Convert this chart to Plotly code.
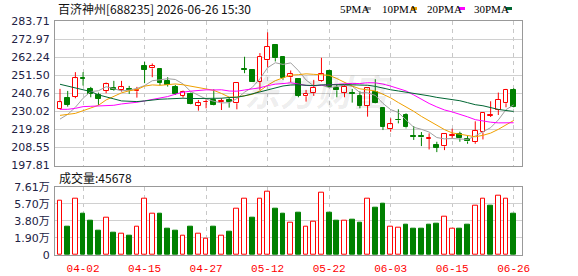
import plotly.graph_objects as go

# ---------------- data ----------------
dates = ["03-30", "03-31", "04-01", "04-02", "04-03", "04-07", "04-08", "04-09", "04-10", "04-13",
         "04-14", "04-15", "04-16", "04-17", "04-20", "04-21", "04-22", "04-23", "04-24", "04-27",
         "04-28", "04-29", "04-30", "05-06", "05-07", "05-08", "05-11", "05-12", "05-13", "05-14",
         "05-15", "05-18", "05-19", "05-20", "05-21", "05-22", "05-25", "05-26", "05-27", "05-28",
         "05-29", "06-01", "06-02", "06-03", "06-04", "06-05", "06-08", "06-09", "06-10", "06-11",
         "06-12", "06-15", "06-16", "06-17", "06-18", "06-22", "06-23", "06-24", "06-25", "06-26"]

opens = [231.21, 237.78, 238.77, 249.91, 243.15, 239.77, 242.35, 243.94, 242.95, 243.15,
         241.95, 257.07, 255.48, 255.28, 248.12, 244.74, 239.37, 240.36, 233.40, 235.39,
         236.78, 235.39, 236.78, 234.79, 255.28, 254.68, 247.72, 260.45, 269.60, 262.24,
         250.31, 249.11, 238.97, 240.76, 247.92, 254.09, 244.14, 240.96, 240.96, 239.17,
         233.20, 241.75, 232.21, 219.28, 225.05, 227.83, 215.10, 215.30, 213.71, 209.93,
         209.14, 215.50, 216.30, 213.71, 211.73, 217.49, 227.43, 230.82, 234.79, 242.75]
highs = [243.35, 242.15, 253.29, 253.29, 244.54, 241.16, 247.12, 248.12, 248.12, 245.14,
         244.54, 259.46, 258.46, 255.28, 250.31, 245.73, 242.35, 241.16, 236.78, 237.18,
         243.15, 237.78, 238.37, 247.00, 262.44, 255.08, 264.63, 276.96, 269.80, 262.64,
         254.29, 249.51, 242.75, 248.72, 261.84, 254.68, 246.13, 245.73, 243.35, 241.95,
         244.34, 249.11, 232.41, 225.84, 231.21, 228.83, 221.27, 217.69, 216.90, 211.92,
         216.70, 219.68, 217.89, 215.30, 224.06, 229.20, 235.99, 241.16, 243.35, 243.74]
lows = [231.00, 232.80, 237.78, 245.33, 238.37, 233.80, 240.76, 242.15, 241.75, 240.36,
        238.17, 246.73, 250.31, 245.53, 244.74, 239.77, 238.17, 234.20, 230.42, 231.81,
        233.40, 230.80, 232.20, 231.21, 252.69, 247.50, 242.75, 256.08, 259.66, 248.72,
        247.32, 238.37, 235.79, 239.17, 247.50, 244.34, 238.37, 238.37, 235.19, 231.81,
        226.84, 234.79, 218.88, 217.89, 222.86, 219.88, 213.00, 209.34, 207.35, 205.77,
        206.96, 213.71, 211.92, 210.74, 210.74, 213.30, 226.64, 227.83, 232.41, 232.20]
closes = [235.39, 234.00, 249.71, 249.51, 240.36, 237.58, 246.13, 242.55, 244.34, 242.55,
          242.55, 254.68, 256.87, 247.12, 245.73, 240.36, 241.36, 234.59, 234.79, 235.59,
          233.60, 236.38, 235.39, 246.93, 254.68, 247.72, 262.24, 268.21, 261.64, 249.71,
          252.30, 239.17, 240.36, 243.94, 252.30, 244.74, 242.55, 244.54, 240.56, 233.40,
          243.74, 235.19, 220.67, 222.26, 224.65, 220.47, 214.70, 214.50, 214.11, 208.35,
          216.50, 215.70, 213.90, 212.12, 218.49, 229.03, 228.03, 236.78, 242.75, 232.41]

volumes = [60130, 31550, 62360, 45660, 37860, 26730, 41950, 24500, 24130, 21160,
           31920, 62360, 46400, 45660, 28950, 26730, 21900, 31180, 24130, 17820,
           31180, 21900, 25610, 51970, 62360, 41570, 63100, 70900, 51230, 45660,
           36380, 46770, 31180, 37490, 69790, 46770, 37860, 37860, 38980, 35640,
           62360, 52340, 57540, 31180, 30070, 33410, 28950, 28950, 33410, 34520,
           42320, 28950, 28950, 33410, 55310, 63100, 54570, 66450, 62360, 45678]
# 1 = red (up) volume bar, 0 = green (down) volume bar, as drawn in the chart
vol_up = [1, 0, 1, 0, 0, 0, 1, 0, 1, 0,
          1, 1, 1, 0, 0, 0, 1, 0, 1, 1,
          0, 1, 0, 1, 1, 0, 1, 1, 0, 0,
          1, 0, 1, 1, 1, 0, 0, 1, 0, 0,
          1, 0, 0, 1, 1, 0, 0, 0, 0, 0,
          1, 1, 0, 0, 1, 1, 0, 1, 1, 0]

ma5 = [225.40, 228.20, 232.40, 237.80, 241.79, 242.23, 244.66, 243.23, 242.19, 242.63,
       243.62, 245.33, 248.20, 248.75, 249.39, 248.95, 246.29, 241.83, 239.37, 237.34,
       235.99, 234.99, 235.15, 237.58, 241.40, 244.22, 249.39, 255.96, 258.90, 257.90,
       258.82, 254.21, 248.64, 245.10, 245.61, 244.10, 244.78, 245.61, 244.94, 241.16,
       240.96, 239.49, 234.71, 231.05, 229.30, 224.65, 220.55, 219.32, 217.69, 214.43,
       213.63, 213.83, 213.71, 213.31, 215.34, 217.85, 220.31, 224.89, 231.02, 233.80]
ma10 = [227.60, 228.20, 228.80, 230.40, 231.80, 233.60, 236.80, 238.80, 241.00, 242.21,
        242.93, 245.00, 245.71, 245.47, 246.01, 246.29, 245.81, 245.02, 244.06, 243.36,
        242.47, 240.64, 238.49, 238.47, 239.37, 240.10, 242.19, 245.55, 248.24, 249.65,
        251.52, 251.80, 252.30, 252.00, 251.76, 251.46, 249.49, 247.13, 245.02, 243.39,
        242.53, 242.13, 240.16, 238.00, 235.23, 232.80, 230.02, 227.01, 224.37, 221.86,
        219.14, 217.19, 216.51, 215.50, 214.88, 215.74, 217.07, 219.30, 222.17, 224.57]
ma20 = [231.20, 231.20, 231.80, 232.80, 233.00, 233.20, 233.20, 233.60, 234.40, 234.80,
        235.40, 236.20, 237.00, 237.80, 238.80, 240.20, 241.40, 242.00, 242.50, 242.79,
        242.70, 242.82, 242.10, 241.97, 242.69, 243.20, 244.00, 245.28, 246.15, 246.51,
        246.99, 246.22, 245.39, 245.23, 245.56, 245.78, 245.84, 246.34, 246.63, 246.52,
        247.03, 246.97, 246.23, 245.00, 243.49, 242.13, 239.76, 237.07, 234.69, 232.63,
        230.84, 229.66, 228.34, 226.75, 225.06, 224.27, 223.55, 223.16, 223.27, 223.22]
ma30 = [246.10, 245.10, 243.70, 242.70, 241.75, 239.80, 238.80, 237.40, 236.20, 235.80,
        235.80, 236.20, 236.80, 237.20, 237.40, 237.80, 237.80, 237.60, 237.60, 237.60,
        237.60, 237.80, 238.20, 238.40, 239.20, 240.40, 241.80, 243.00, 244.00, 245.08,
        245.64, 245.81, 245.50, 245.31, 245.71, 245.95, 245.83, 245.90, 245.77, 245.47,
        245.51, 244.86, 243.65, 242.82, 242.12, 241.46, 240.57, 239.90, 239.21, 238.30,
        237.73, 237.04, 236.32, 235.16, 233.96, 233.33, 232.19, 231.15, 230.52, 229.94]

price_tick_vals = [197.81, 208.55, 219.28, 230.02, 240.76, 251.50, 262.24, 272.97, 283.71]
price_tick_text = ["197.81", "208.55", "219.28", "230.02", "240.76", "251.50", "262.24", "272.97", "283.71"]
vol_tick_vals = [0, 19025, 38050, 57075, 76100]
vol_tick_text = ["0", "1.90万", "3.80万", "5.70万", "7.61万"]
date_ticks = ["04-02", "04-15", "04-27", "05-12", "05-22", "06-03", "06-15", "06-26"]

title_text = "百济神州[688235] 2026-06-26 15:30"
vol_title = "成交量:45678"
ma_names = ["5PMA", "10PMA", "20PMA", "30PMA"]

# ---------------- styles ----------------
RED = "#ff0000"
GREEN = "#008000"
MA_COLORS = ["#a0a0a0", "#f0a000", "#ff00ff", "#006633"]
W, H = 578, 276
ML, MR, MT, MB = 55, 56, 21, 21
PW, PH = W - ML - MR, H - MT - MB


def px_x(px):
    return (px - ML) / PW


def px_y(py):
    return (H - MB - py) / PH


fig = go.Figure()

# candle wicks (split so hollow bodies stay hollow)
for up in (True, False):
    xs, ys = [], []
    for d, o, h, l, c in zip(dates, opens, highs, lows, closes):
        if (c >= o) != up:
            continue
        top, bot = max(o, c), min(o, c)
        xs += [d, d, None, d, d, None]
        ys += [h, top, None, bot, l, None]
    fig.add_trace(go.Scatter(x=xs, y=ys, mode="lines", line=dict(color=RED if up else GREEN, width=1),
                             xaxis="x", yaxis="y", hoverinfo="skip", showlegend=False))

# candle bodies
body_base = [min(o, c) for o, c in zip(opens, closes)]
body_h = [abs(c - o) for o, c in zip(opens, closes)]
body_fill = ["#ffffff" if c >= o else GREEN for o, c in zip(opens, closes)]
body_line = [RED if c >= o else GREEN for o, c in zip(opens, closes)]
fig.add_trace(go.Bar(x=dates, y=body_h, base=body_base, width=0.62,
                     marker=dict(color=body_fill, line=dict(color=body_line, width=1)),
                     xaxis="x", yaxis="y", hoverinfo="skip", showlegend=False))

# moving averages
for ma, col in zip([ma5, ma10, ma20, ma30], MA_COLORS):
    fig.add_trace(go.Scatter(x=dates, y=ma, mode="lines", line=dict(color=col, width=1),
                             xaxis="x", yaxis="y", hoverinfo="skip", showlegend=False))

# volume
fig.add_trace(go.Bar(x=dates, y=volumes, width=0.62,
                     marker=dict(color=["#ffffff" if u else GREEN for u in vol_up],
                                 line=dict(color=[RED if u else GREEN for u in vol_up], width=1)),
                     xaxis="x2", yaxis="y2", hoverinfo="skip", showlegend=False))

main_bottom = px_y(165.5)
vol_top = px_y(186.7)

xcommon = dict(type="category", categoryorder="array", categoryarray=dates,
               range=[-0.65, 60.08], tickvals=date_ticks, tickangle=0, automargin=False,
               showgrid=True, gridcolor="#c8c8c8", griddash="4px,4px", gridwidth=1,
               showline=True, linecolor="#999999", linewidth=1, mirror=True,
               ticks="", zeroline=False, fixedrange=True)

fig.update_layout(
    width=W, height=H,
    margin=dict(l=ML, r=MR, t=MT, b=MB, pad=0, autoexpand=False),
    paper_bgcolor="white", plot_bgcolor="white",
    barmode="overlay", bargap=0,
    showlegend=False,
    xaxis=dict(**xcommon, domain=[0, 1], anchor="y", showticklabels=False),
    xaxis2=dict(**xcommon, domain=[0, 1], anchor="y2", matches="x", showticklabels=True,
                tickfont=dict(family="Liberation Mono", size=11, color=RED), ticklabelstandoff=3),
    yaxis=dict(domain=[main_bottom, 1], range=[197.81, 283.71], tickvals=price_tick_vals,
               ticktext=price_tick_text, showgrid=True, gridcolor="#d0d0d0", gridwidth=1,
               showline=True, linecolor="#999999", linewidth=1, mirror=True, zeroline=False,
               ticks="", ticklabelstandoff=2, automargin=False,
               tickfont=dict(family="DejaVu Sans", size=11, color="#222244"), fixedrange=True),
    yaxis2=dict(domain=[0, vol_top], range=[0, 76100], tickvals=vol_tick_vals,
                ticktext=vol_tick_text, showgrid=True, gridcolor="#d0d0d0", gridwidth=1,
                showline=True, linecolor="#999999", linewidth=1, mirror=True, zeroline=False,
                ticks="", ticklabelstandoff=2, automargin=False,
                tickfont=dict(family="DejaVu Sans, Noto Sans CJK SC", size=11, color="#222244"),
                fixedrange=True),
)

annotations = [
    dict(text=title_text, x=px_x(56), y=px_y(9), xref="paper", yref="paper",
         xanchor="left", yanchor="middle", showarrow=False,
         font=dict(family="Noto Sans CJK SC", size=12, color="#111111")),
    dict(text=vol_title, x=px_x(57), y=px_y(177), xref="paper", yref="paper",
         xanchor="left", yanchor="middle", showarrow=False,
         font=dict(family="Noto Sans CJK SC", size=12, color="#111111")),
    dict(text="<b><i>东方财富</i></b>", x=px_x(318), y=px_y(90), xref="paper", yref="paper",
         xanchor="center", yanchor="middle", showarrow=False,
         font=dict(family="Noto Sans CJK SC", size=36, color="rgba(0,0,0,0.08)")),
]
shapes = []
legend_text_x = [338, 380, 425, 472]
legend_sq_x = [365, 411, 459, 506]
for name, col, tx, sx in zip(ma_names, MA_COLORS, legend_text_x, legend_sq_x):
    annotations.append(dict(text=name, x=px_x(tx), y=px_y(9), xref="paper", yref="paper",
                            xanchor="left", yanchor="middle", showarrow=False,
                            font=dict(family="Liberation Serif", size=11, color="#000000")))
    shapes.append(dict(type="rect", xref="paper", yref="paper",
                       x0=px_x(sx), x1=px_x(sx + 6), y0=px_y(10), y1=px_y(7),
                       fillcolor=col, line=dict(width=0)))

fig.update_layout(annotations=annotations, shapes=shapes)

fig.write_html("out.html", config={"displayModeBar": False})
